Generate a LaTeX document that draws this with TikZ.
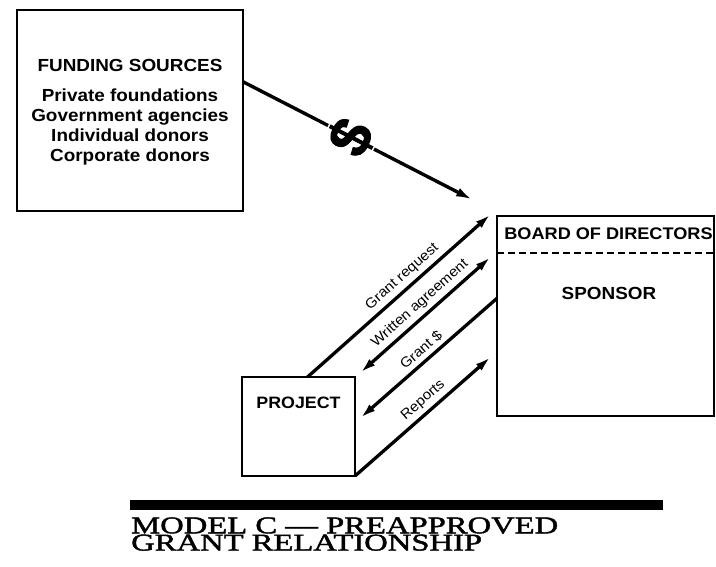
\documentclass[tikz,border=0pt]{standalone}
\usepackage{fontspec}
\setmainfont{Liberation Sans}
\newfontfamily\boxfont[FakeStretch=1.08]{Liberation Sans}
\newfontfamily\dollarfont[FakeBold=1.5]{Liberation Sans}
\newfontfamily\titlefont[FakeStretch=1.36, FakeBold=1.8]{Liberation Serif}
\usetikzlibrary{arrows.meta,calc}
\tikzset{
  box/.style={draw, line width=2.4pt, rectangle, outer sep=0pt, inner sep=0pt},
  boxtext/.style={font=\boxfont\fontsize{17.5}{20}\selectfont\bfseries, inner sep=0pt, anchor=base},
  flow/.style={line width=3.3pt, -{Latex[length=16pt,width=8.5pt]}},
  flowboth/.style={line width=3.3pt, {Latex[length=16pt,width=8.5pt]}-{Latex[length=16pt,width=8.5pt]}},
  flowback/.style={line width=3.3pt, {Latex[length=16pt,width=8.5pt]}-},
  lbl/.style={font=\boxfont\fontsize{14}{16}\selectfont, sloped, above=3pt, inner sep=1pt},
  ttl/.style={font=\titlefont\fontsize{24}{26}\selectfont, inner sep=0pt, anchor=base west}
}
\begin{document}
\begin{tikzpicture}[x=1pt,y=-1pt]
\useasboundingbox (0,0) rectangle (716,567);

% boxes
\node[box, minimum width=226pt, minimum height=201pt] (fs) at (130,110.5) {};
\node[box, minimum width=217pt, minimum height=200pt] (board) at (605.5,316) {};
\node[box, minimum width=113pt, minimum height=99pt] (proj) at (298.5,426.5) {};

% funding text
\node[boxtext] (fs1) at (130,71.7) {FUNDING SOURCES};
\node[boxtext] (fs2) at (130,102) {Private foundations};
\node[boxtext] (fs3) at (130,122) {Government agencies};
\node[boxtext] (fs4) at (130,142) {Individual donors};
\node[boxtext] (fs5) at (130,162) {Corporate donors};

% board text
\node[boxtext, font=\boxfont\fontsize{16.8}{20}\selectfont\bfseries] (bod) at (608.5,239.3) {BOARD OF DIRECTORS};
\draw[line width=1.3pt, dash pattern=on 7pt off 4pt]
  ($(board.north west)+(0,37)$) -- ($(board.north east)+(0,37)$);
\node[boxtext] (spon) at (609,300) {SPONSOR};

% project text
\node[boxtext, font=\boxfont\fontsize{16.5}{18}\selectfont\bfseries] (pt) at (298.5,408.3) {PROJECT};

% dollar arrow
\coordinate (dollarend) at (473,200);
\draw[line width=3.4pt, -{Latex[length=17pt,width=9pt]}]
  ($(fs.north east)!0.357!(fs.south east)$) -- (dollarend)
  node[pos=0.47, sloped, fill=white, inner sep=2pt, rotate=90,
       font=\dollarfont\fontsize{58}{58}\selectfont\bfseries] (dollar) {\$};

% grant arrows
\draw[flow] ($(proj.north west)!0.58!(proj.north east)$) -- ($(board.north west)+(-6,-2)$)
  node[lbl, pos=0.56] (l1) {Grant request};
\draw[flowboth] ($(proj.north east)+(5,-4)$) -- ($(board.north west)+(-6,40.7)$)
  node[lbl, pos=0.52] (l2) {Written agreement};
\draw[flowback] ($(proj.north east)+(5,41.3)$) -- ($(board.north west)+(0,82.3)$)
  node[lbl, pos=0.5] (l3) {Grant \$};
\draw[flow] (proj.south east) -- ($(board.north west)+(-6,140.7)$)
  node[lbl, pos=0.56] (l4) {Reports};

% title
\fill (130,500) rectangle (663,509.5);
\node[ttl] (t1) at (131,533.3) {MODEL C — PREAPPROVED};
\node[ttl] (t2) at (131,550.5) {GRANT RELATIONSHIP};
\end{tikzpicture}
\end{document}
